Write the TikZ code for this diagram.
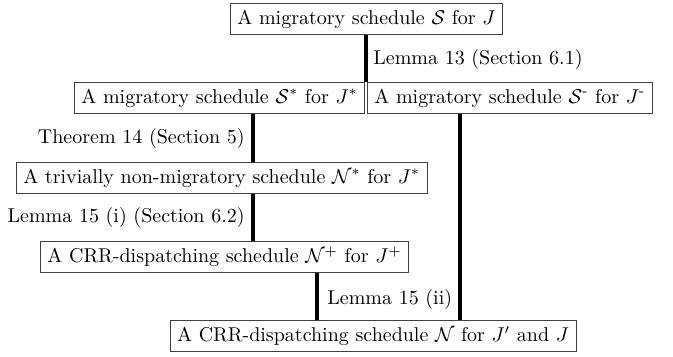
\documentclass[tikz,border=0pt]{standalone}
\usepackage{amsmath}
\begin{document}
\begin{tikzpicture}[x=0.5pt,y=-0.5pt,
  sched/.style={draw=black!75,line width=0.4pt,inner xsep=3.5pt,inner ysep=0pt,
    minimum height=15.5pt,anchor=west,fill=white},
  proof/.style={line width=2pt},
  lbl/.style={inner sep=0pt}]
\useasboundingbox (0,0) rectangle (673,357);

% schedules
\node[sched] (S)  at (230,19)  {A migratory schedule $\mathcal{S}$ for $J$};
\node[sched] (Ss) at (74,98)   {A migratory schedule $\mathcal{S}^*$ for $J^*$};
\node[sched] (Sm) at (367,98)  {A migratory schedule $\mathcal{S}^{\text{-}}$ for $J^{\text{-}}$};
\node[sched] (Ns) at (16,178)  {A trivially non-migratory schedule $\mathcal{N}^*$ for $J^*$};
\node[sched] (Np) at (40,257)  {A CRR-dispatching schedule $\mathcal{N}^+$ for $J^+$};
\node[sched,anchor=center] (N) at (373,336) {A CRR-dispatching schedule $\mathcal{N}$ for $J'$ and $J$};

% x positions of the vertical connectors
\coordinate (xa) at (253,0);
\coordinate (xb) at (317,0);
\coordinate (xc) at (460,0);

% connectors
\draw[proof] (S.south) -- (S.south |- Ss.north);
\draw[proof] (Ss.south -| xa) -- (Ns.north -| xa);
\draw[proof] (Ns.south -| xa) -- (Np.north -| xa);
\draw[proof] (Np.south -| xb) -- (N.north -| xb);
\draw[proof] (Sm.south -| xc) -- (N.north -| xc);

% labels
\node[lbl,anchor=west] (l1) at (373,60)  {Lemma 13 (Section 6.1)};
\node[lbl,anchor=east] (l2) at (245,139) {Theorem 14 (Section 5)};
\node[lbl,anchor=east] (l3) at (245,218) {Lemma 15 (i) (Section 6.2)};
\node[lbl,anchor=west] (l4) at (327,299) {Lemma 15 (ii)};
\end{tikzpicture}
\end{document}
